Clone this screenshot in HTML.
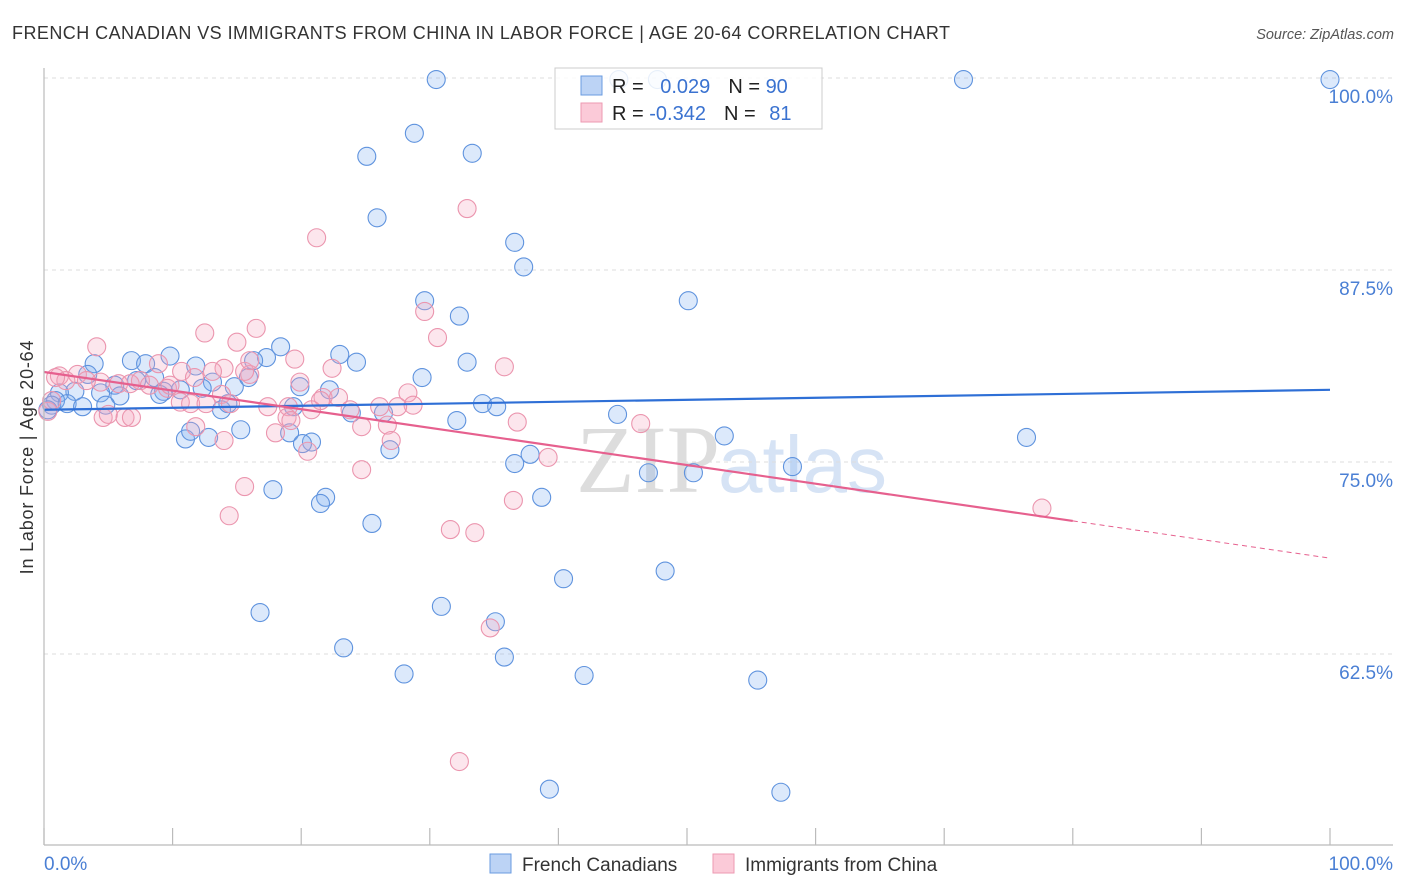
<!DOCTYPE html>
<html><head><meta charset="utf-8"><style>
body{margin:0;background:#fff;font-family:"Liberation Sans",sans-serif;}
#wrap{position:relative;width:1406px;height:892px;overflow:hidden;}
</style></head><body>
<div id="wrap">
<svg id="svg" width="1406" height="892">
<text x="12" y="39" font-size="18" letter-spacing="0.45" fill="#333">FRENCH CANADIAN VS IMMIGRANTS FROM CHINA IN LABOR FORCE | AGE 20-64 CORRELATION CHART</text>
<text x="1394" y="39" font-size="14.5" fill="#555" font-style="italic" text-anchor="end">Source: ZipAtlas.com</text>
<text x="720" y="492" font-size="96" fill="#ddd" text-anchor="end" font-family="Liberation Serif">ZIP</text>
<text x="718" y="492" font-size="80" fill="#d6e3f5">atlas</text>
<g id="grid"></g>
<g id="pts"></g>
<g id="trend"></g>
<line x1="44" y1="68" x2="44" y2="845" stroke="#bbb" stroke-width="1.2"/>
<line x1="44" y1="845" x2="1393" y2="845" stroke="#bbb" stroke-width="1.2"/>
<text transform="translate(33,457) rotate(-90)" font-size="18" letter-spacing="0.8" fill="#333" text-anchor="middle">In Labor Force | Age 20-64</text>
<text x="44" y="870" font-size="19" fill="#4a7fd4">0.0%</text>
<text x="1393" y="870" font-size="19" fill="#4a7fd4" text-anchor="end">100.0%</text>
<g>
<rect x="555" y="68" width="267" height="61" fill="rgba(255,255,255,0.85)" stroke="#ccc"/>
<rect x="581" y="76" width="21" height="19" fill="#bcd3f5" stroke="#6a9be0"/>
<rect x="581" y="103" width="21" height="19" fill="#fbcad8" stroke="#ec9ab2"/>
<text x="612" y="93" font-size="20" fill="#222">R = <tspan fill="#3a72d0" dx="11">0.029</tspan><tspan dx="18">N = </tspan><tspan fill="#3a72d0">90</tspan></text>
<text x="612" y="120" font-size="20" fill="#222">R = <tspan fill="#3a72d0">-0.342</tspan><tspan dx="18">N = </tspan><tspan fill="#3a72d0" dx="8">81</tspan></text>
</g>
<g>
<rect x="490" y="854" width="21" height="19" fill="#bcd3f5" stroke="#6a9be0"/>
<text x="522" y="871" font-size="19" fill="#333">French Canadians</text>
<rect x="713" y="854" width="21" height="19" fill="#fbcad8" stroke="#ec9ab2"/>
<text x="745" y="871" font-size="19" fill="#333">Immigrants from China</text>
</g>
</svg>
</div>
<script>
const yTicks=[100,87.5,75,62.5];
const yTickLabels=["100.0%","87.5%","75.0%","62.5%"];
const xTicks=[0,10,20,30,40,50,60,70,80,90,100];
const blueX=[30.5,44.7,71.5,100,28.8,25.1,33.3,25.9,36.6,37.3,50.1,29.6,32.3,18.4,23.0,24.3,32.9,17.3,16.3,9.8,6.8,7.9,3.9,11.8,29.4,19.9,22.2,13.1,14.8,15.9,8.6,7.2,5.5,4.4,2.4,1.2,0.9,0.6,0.3,1.8,3.0,5.9,9.3,10.6,12.3,13.8,14.3,4.8,34.1,35.2,23.9,26.4,19.4,32.1,44.6,15.3,19.1,20.8,20.1,11.0,12.8,11.4,26.9,37.8,36.6,52.9,76.4,58.2,47.0,50.5,17.8,21.9,21.5,38.7,25.5,40.4,48.3,30.9,35.1,16.8,23.3,35.8,28.0,42.0,55.5,39.3,57.3,3.4,9.0,47.7];
const blueY=[99.9,99.9,99.9,99.9,96.4,94.9,95.1,90.9,89.3,87.7,85.5,85.5,84.5,82.5,82.0,81.5,81.5,81.8,81.6,81.9,81.6,81.4,81.4,81.25,80.5,79.9,79.7,80.2,79.9,80.5,80.5,80.3,80.0,79.5,79.6,79.5,79.0,78.7,78.4,78.8,78.6,79.3,79.6,79.7,79.8,78.4,78.8,78.7,78.8,78.6,78.2,78.2,78.6,77.7,78.1,77.1,76.9,76.3,76.2,76.5,76.6,77.0,75.8,75.5,74.9,76.7,76.6,74.7,74.3,74.3,73.2,72.7,72.3,72.7,71.0,67.4,67.9,65.6,64.6,65.2,62.9,62.3,61.2,61.1,60.8,53.7,53.5,80.7,79.4,99.9];
const pinkX=[32.9,21.2,29.6,30.6,12.5,16.5,15.0,4.1,19.5,22.4,35.8,8.9,10.7,14.0,16.0,19.9,4.4,2.6,1.2,1.7,0.9,3.3,5.8,6.7,7.5,8.2,9.6,11.7,13.1,15.6,13.8,10.6,11.4,12.6,14.5,17.4,19.0,21.7,22.9,26.1,28.3,28.7,27.5,26.7,27.0,36.8,24.7,23.8,21.5,20.8,18.9,19.2,18.0,20.5,4.6,5.0,6.3,6.8,11.8,14.0,39.2,46.4,24.7,15.6,14.4,36.5,31.6,33.5,77.6,34.7,32.3,0.3,0.6,9.8,16.0];
const pinkY=[91.5,89.6,84.8,83.1,83.4,83.7,82.8,82.5,81.7,81.1,81.2,81.4,80.9,81.1,80.7,80.2,80.2,80.7,80.6,80.3,80.5,80.3,80.1,80.1,80.3,80.0,79.8,80.5,80.9,80.9,79.4,78.9,78.8,78.8,78.8,78.6,78.6,79.2,79.2,78.6,79.5,78.7,78.6,77.4,76.4,77.6,77.3,78.4,79.0,78.4,77.9,77.7,76.9,75.7,77.9,78.1,77.9,77.9,77.3,76.4,75.3,77.5,74.5,73.4,71.5,72.5,70.6,70.4,72.0,64.2,55.5,78.3,79.0,80.0,81.6];
const blueTrend=[78.4,79.7];
const pinkTrend=[80.86,68.74];
const pinkSolidEnd=80;

const X=v=>44+v*12.86;
const Y=v=>78+(100-v)*15.36;
const NS="http://www.w3.org/2000/svg";
function mk(tag,attrs,parent){const e=document.createElementNS(NS,tag);for(const k in attrs)e.setAttribute(k,attrs[k]);parent.appendChild(e);return e;}
const grid=document.getElementById('grid'),pts=document.getElementById('pts'),tr=document.getElementById('trend');
yTicks.forEach((t,i)=>{
 const l=mk('line',{x1:44,x2:1393,y1:Y(t),y2:Y(t),stroke:'#ddd','stroke-dasharray':'4,4'},grid);
 
 
 const tx=mk('text',{x:1393,y:Y(t)+25,'font-size':19,fill:'#4a7fd4','text-anchor':'end'},grid);
 tx.textContent=yTickLabels[i];
 
 
});
xTicks.forEach(t=>{
 const l=mk('line',{x1:X(t),x2:X(t),y1:828,y2:845,stroke:'#bbb','stroke-width':1.2},grid);
 
 
});
blueX.forEach((x,i)=>{
 const c=mk('circle',{cx:X(x),cy:Y(blueY[i]),r:9,fill:'rgba(130,175,240,0.28)',stroke:'#5f93de','stroke-width':1.1},pts);
 
 
});
pinkX.forEach((x,i)=>{
 const c=mk('circle',{cx:X(x),cy:Y(pinkY[i]),r:9,fill:'rgba(245,165,190,0.28)',stroke:'#eb95ae','stroke-width':1.1},pts);
 
 
});
const bl=mk('line',{x1:X(0),y1:Y(blueTrend[0]),x2:X(100),y2:Y(blueTrend[1]),stroke:'#2e6fd6','stroke-width':2.2},tr);


const pm=pinkTrend[0]+(pinkTrend[1]-pinkTrend[0])*pinkSolidEnd/100;
const pl=mk('line',{x1:X(0),y1:Y(pinkTrend[0]),x2:X(pinkSolidEnd),y2:Y(pm),stroke:'#e6608e','stroke-width':2.2},tr);


const pd=mk('line',{x1:X(pinkSolidEnd),y1:Y(pm),x2:X(100),y2:Y(pinkTrend[1]),stroke:'#e6608e','stroke-width':1,'stroke-dasharray':'5,4'},tr);


</script>
</body></html>
